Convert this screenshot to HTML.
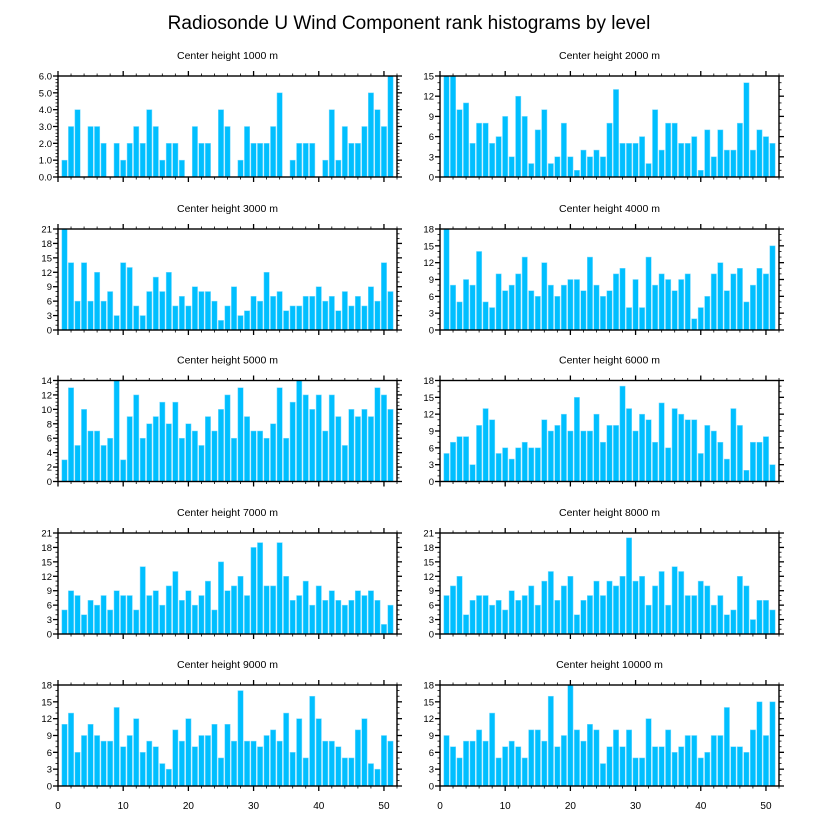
<!DOCTYPE html>
<html><head><meta charset="utf-8"><style>
body{margin:0;background:#fff;}
svg{display:block;font-family:"Liberation Sans",sans-serif;}
</style></head><body>
<svg id="chart" width="818" height="824" viewBox="0 0 818 824">
<text x="409" y="29" font-size="19" text-anchor="middle">Radiosonde U Wind Component rank histograms by level</text>
</svg>
<script>
const levels = ["1000","2000","3000","4000","5000","6000","7000","8000","9000","10000"];
const yMax = [6,15,21,18,14,18,21,21,18,18];
const yStep = [1,3,3,3,2,3,3,3,3,3];
const yDecimals = [1,0,0,0,0,0,0,0,0,0];
const xTicks = [0,10,20,30,40,50];
const v1000 = [1,3,4,0,3,3,2,0,2,1,2,3,2,4,3,1,2,2,1,0,3,2,2,0,4,3,0,1,3,2,2,2,3,5,0,1,2,2,2,0,1,4,1,3,2,2,3,5,4,3,6];
const v2000 = [15,15,10,11,5,8,8,5,6,9,3,12,9,2,7,10,2,3,8,3,1,4,3,4,3,8,13,5,5,5,6,2,10,4,8,8,5,5,6,1,7,3,7,4,4,8,14,4,7,6,5];
const v3000 = [21,14,6,14,6,12,6,8,3,14,13,5,3,8,11,8,12,5,7,5,9,8,8,6,2,5,9,3,4,7,6,12,7,8,4,5,5,7,7,9,6,7,4,8,5,7,5,9,6,14,8];
const v4000 = [18,8,5,9,8,14,5,4,10,7,8,10,13,7,6,12,8,6,8,9,9,7,13,8,6,7,10,11,4,9,4,13,8,10,9,7,9,10,2,4,6,10,12,7,10,11,5,8,11,10,15];
const v5000 = [3,13,5,10,7,7,5,6,14,3,9,12,6,8,9,11,8,11,6,8,7,5,9,7,10,12,6,13,9,7,7,6,8,13,6,11,14,12,10,12,7,12,9,5,10,9,10,9,13,12,10];
const v6000 = [5,7,8,8,3,10,13,11,5,6,4,6,7,6,6,11,9,10,12,9,15,9,9,12,7,10,10,17,13,9,12,11,7,14,6,13,12,11,11,5,10,9,7,4,13,10,2,7,7,8,3];
const v7000 = [5,9,8,4,7,6,8,5,9,8,8,5,14,8,9,6,10,13,7,9,6,8,11,5,15,9,10,12,8,18,19,10,10,19,12,7,8,11,6,10,7,9,7,6,7,9,8,9,7,2,6];
const v8000 = [8,10,12,4,7,8,8,6,7,5,9,7,8,10,6,11,13,7,10,12,4,7,8,11,8,11,10,12,20,11,12,6,10,13,6,14,13,8,8,11,10,6,8,4,5,12,10,3,7,7,5];
const v9000 = [11,13,6,9,11,9,8,8,14,7,9,12,6,8,7,4,3,10,8,12,7,9,9,11,5,11,8,17,8,8,7,9,10,8,13,6,12,5,16,12,8,8,7,5,5,10,12,4,3,9,8];
const v10000 = [9,7,5,8,8,10,8,13,5,7,8,7,5,10,10,8,16,7,9,18,10,8,11,10,4,7,10,7,10,5,5,12,7,7,10,6,7,9,9,5,6,9,9,14,7,7,6,10,15,9,15];
const allValues = [v1000,v2000,v3000,v4000,v5000,v6000,v7000,v8000,v9000,v10000];

const NS = "http://www.w3.org/2000/svg";
const svg = document.getElementById('chart');
function mk(tag, attrs, parent){const e=document.createElementNS(NS,tag);for(const k in attrs)e.setAttribute(k,attrs[k]);(parent||svg).appendChild(e);return e;}

const colX = [58,440], plotW = 339, plotH = 101;
const rowY = [76,229,380.5,533,685];
const xMaxD = 52;

allValues.forEach((vals, p) => {
  const col = p % 2, row = Math.floor(p/2);
  const x0 = colX[col], y0 = rowY[row];
  const xs = d => x0 + d / xMaxD * plotW;
  const ys = v => y0 + plotH - v / yMax[p] * plotH;
  const g = mk('g', {});
  
  
  const t = mk('text', {x: x0 + plotW/2, y: y0 - 17, 'font-size': 10.5, 'text-anchor': 'middle'}, g);
  t.textContent = 'Center height ' + levels[p] + ' m';
  
  
  const bw = 0.82 / xMaxD * plotW;
  vals.forEach((v, i) => {
    if (v <= 0) return;
    const r = mk('rect', {x: xs(i+1) - bw/2, y: ys(v), width: bw, height: ys(0) - ys(v), fill: '#00bfff', stroke: '#7fdcff', 'stroke-width': 0.5}, g);
    
    
  });
  const frame = mk('rect', {x: x0, y: y0, width: plotW, height: plotH, fill: 'none', stroke: '#000', 'stroke-width': 1.4}, g);
  
  
  // x ticks (top & bottom, outward)
  for (let d = 0; d <= xMaxD; d += 2) {
    const major = d % 10 === 0;
    const L = major ? 5 : 2.5;
    const X = xs(d);
    mk('line', {x1: X, x2: X, y1: y0 + plotH, y2: y0 + plotH + L, stroke: '#000', 'stroke-width': major ? 1.3 : 0.8}, g);
    mk('line', {x1: X, x2: X, y1: y0, y2: y0 - L, stroke: '#000', 'stroke-width': major ? 1.3 : 0.8}, g);
  }
  if (row === 4) {
    xTicks.forEach(d => {
      const lt = mk('text', {x: xs(d), y: y0 + plotH + 23, 'font-size': 10, 'text-anchor': 'middle'}, g);
      lt.textContent = d;
      
      
    });
  }
  // y ticks
  const minor = yStep[p] / (yStep[p] === 3 ? 3 : (yStep[p] === 2 ? 4 : 5));
  const nMinor = Math.round(yMax[p] / minor);
  for (let k = 0; k <= nMinor; k++) {
    const v = k * minor;
    const isMajor = Math.abs(v / yStep[p] - Math.round(v / yStep[p])) < 1e-6;
    const L = isMajor ? 5 : 2.5;
    const Y = ys(v);
    mk('line', {x1: x0, x2: x0 - L, y1: Y, y2: Y, stroke: '#000', 'stroke-width': isMajor ? 1.3 : 0.8}, g);
    mk('line', {x1: x0 + plotW, x2: x0 + plotW + L, y1: Y, y2: Y, stroke: '#000', 'stroke-width': isMajor ? 1.3 : 0.8}, g);
    if (isMajor) {
      const yl = mk('text', {x: x0 - 6, y: Y + 3.5, 'font-size': 9.5, 'text-anchor': 'end'}, g);
      yl.textContent = v.toFixed(yDecimals[p]);
      
      
    }
  }
});
</script>
</body></html>
